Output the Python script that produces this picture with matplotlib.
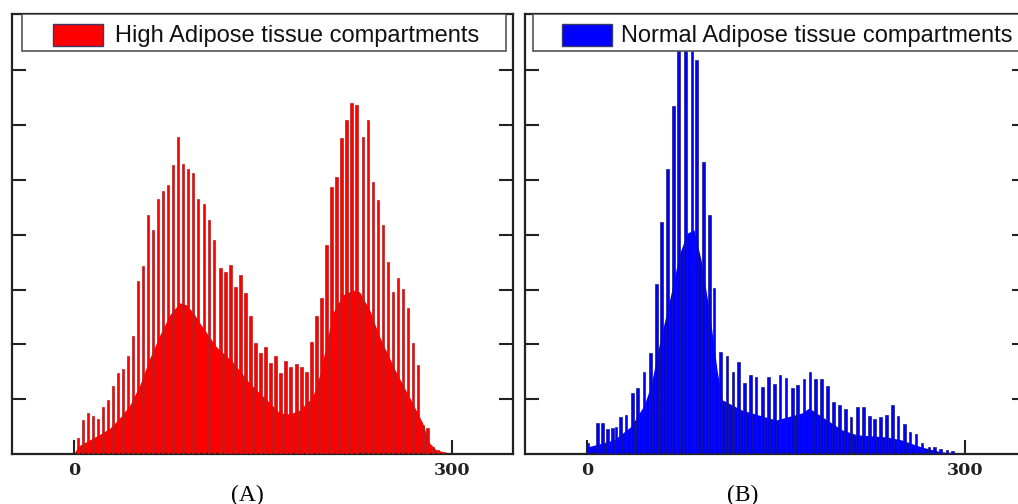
import matplotlib.pyplot as plt
from matplotlib.patches import Rectangle

# smooth lower part of each histogram (grey level, relative count)
high_base_x = [0, 1.6, 4.8, 12.7, 20.6, 28.5, 36.4, 44.3, 52.3, 60.2, 68.1, 76.0, 83.9, 89.5,
               95.8, 99.8, 113.2, 125.9, 139.4, 152.8, 163.1, 171.0, 178.9, 189.2, 194.8,
               200.3, 205.1, 213.0, 220.9, 226.4, 234.4, 242.3, 255.7, 268.4, 276.3, 281.9,
               287.4, 297.7, 305.6]
high_base_y = [0, 0.07, 0.16, 0.26, 0.36, 0.47, 0.66, 0.89, 1.26, 1.75, 2.17, 2.54, 2.76, 2.72,
               2.54, 2.39, 1.95, 1.68, 1.29, 0.99, 0.75, 0.73, 0.80, 1.04, 1.44,
               2.03, 2.57, 2.90, 2.99, 2.96, 2.63, 2.14, 1.48, 0.93, 0.57, 0.20,
               0.07, 0.02, 0]

# spikes of the high adipose histogram
high_spike_x = [3.4, 7.4, 11.3, 15.3, 19.2, 23.2, 27.2, 31.1, 35.1, 39.0, 43.0, 47.0, 50.9, 54.9,
                58.8, 62.8, 66.7, 70.7, 74.7, 78.6, 82.6, 86.5, 90.5, 94.5, 98.4, 103.2, 107.1,
                111.1, 116.4, 120.3, 124.3, 128.3, 132.2, 136.2, 140.1, 144.1, 148.1, 152.0,
                156.0, 159.9, 163.9, 167.9, 171.8, 176.3, 180.3, 184.2, 188.2, 192.2, 196.1,
                200.1, 204.0, 208.0, 212.0, 215.9, 219.9, 223.8, 229.1, 233.0, 237.0, 241.0,
                244.9, 248.9, 252.9, 256.8, 260.7, 264.7, 268.7, 272.6, 276.6, 280.5, 284.5,
                288.5, 292.5]
high_spike_h = [0.29, 0.62, 0.75, 0.69, 0.64, 0.86, 0.99, 1.24, 1.48, 1.55, 1.79, 2.15, 3.16, 3.43,
                4.36, 4.09, 4.65, 4.80, 4.91, 5.27, 5.78, 5.30, 5.20, 5.13, 4.65, 4.57, 4.27,
                3.91, 3.39, 3.33, 3.45, 3.05, 3.27, 2.94, 2.51, 2.02, 1.85, 1.96,
                1.66, 1.78, 1.48, 1.70, 1.58, 1.64, 1.59, 1.50, 2.05, 2.51, 2.84,
                3.81, 4.87, 5.06, 5.76, 6.09, 6.41, 6.37, 5.79, 6.09, 4.97, 4.64,
                4.18, 3.51, 2.96, 3.21, 3.02, 2.66, 2.02, 1.62, 0.53, 0.47, 0.12,
                0.07, 0.04]

normal_base_x = [0, 0.5, 5.8, 21.6, 34.8, 45.4, 50.9, 57.3, 66.8, 73.1, 79.4, 85.0, 90.5, 96.9,
                 103.2, 107.2, 123.0, 149.9, 170.5, 176.1, 186.4, 202.2, 214.1, 237.8, 248.9,
                 264.8, 280.6, 296.4, 318.5]
normal_base_y = [0, 0.13, 0.16, 0.26, 0.50, 0.89, 1.26, 1.99, 2.94, 3.63, 4.03, 4.09, 3.54, 2.63,
                 1.53, 0.99, 0.80, 0.62, 0.75, 0.84, 0.68, 0.44, 0.35, 0.31, 0.26,
                 0.13, 0.04, 0.02, 0]

normal_spike_x = [1.0, 8.4, 12.4, 16.3, 20.3, 23.2, 26.9, 30.9, 36.1, 40.1, 45.4, 50.4, 55.0, 59.1,
                  64.1, 68.9, 72.7, 78.1, 83.2, 86.7, 92.3, 97.2, 100.8, 106.1, 111.1, 115.8,
                  120.2, 124.9, 129.8, 134.0, 139.0, 143.9, 148.7, 153.0, 157.8, 162.8, 167.1,
                  172.1, 176.8, 181.3, 186.1, 190.5, 195.6, 200.0, 205.1, 209.4, 214.3, 219.0,
                  223.8, 228.1, 232.8, 237.5, 242.0, 246.7, 251.6, 256.2, 260.7, 265.7, 271.0,
                  275.5, 280.3, 285.3, 290.0]
normal_spike_h = [0.20, 0.56, 0.56, 0.45, 0.47, 0.50, 0.68, 0.71, 1.11, 1.20, 1.50, 1.84, 3.10, 4.23,
                  5.20, 6.35, 7.60, 7.95, 7.50, 7.19, 5.33, 4.36, 3.03, 1.87, 1.78, 1.50,
                  1.68, 1.29, 1.44, 1.40, 1.23, 1.41, 1.28, 1.44, 1.38, 1.21, 1.26,
                  1.37, 1.49, 1.37, 1.37, 1.24, 0.95, 0.89, 0.82, 0.68, 0.86, 0.86,
                  0.70, 0.64, 0.67, 0.72, 0.89, 0.69, 0.55, 0.40, 0.37, 0.20, 0.13,
                  0.12, 0.10, 0.07, 0.05]

legend_labels = ["High Adipose tissue compartments", "Normal Adipose tissue compartments"]
panel_tags = ["(A)", "(B)"]
x_ticks = [0, 300]
x_tick_labels = ["0", "300"]
y_ticks = [1, 2, 3, 4, 5, 6, 7]


def draw_panel(ax, base_x, base_y, spike_x, spike_h, fill, edge, label, box, hx, tx):
    ax.fill_between(base_x, base_y, color=fill, lw=0, zorder=2)
    ax.bar(spike_x, spike_h, width=2.1, color=fill, edgecolor=edge, linewidth=0.5, zorder=3)

    ax.set_xlim(-49, 348)
    ax.set_ylim(0, 8.03)
    ax.set_xticks(x_ticks)
    ax.set_xticklabels(x_tick_labels, fontfamily="DejaVu Serif", fontweight="bold", fontsize=12.5)
    ax.set_yticks(y_ticks)
    ax.tick_params(axis="x", direction="in", length=10, width=1.5, pad=6, colors="#222222")
    ax.tick_params(axis="y", direction="in", length=10, width=1.5, left=True, right=True,
                   labelleft=False, colors="#222222")
    for s in ax.spines.values():
        s.set_linewidth(1.6)
        s.set_color("#222222")

    # legend box drawn by hand so it spans the top of the panel
    ax.add_patch(Rectangle((box[0], 0.916), box[1], 0.084, transform=ax.transAxes,
                           facecolor="white", edgecolor="#555555", lw=1.2, zorder=6))
    ax.add_patch(Rectangle((hx, 0.927), 0.0998, 0.05, transform=ax.transAxes, facecolor=fill,
                           edgecolor="#3a3a6a", lw=1.0, zorder=7))
    ax.text(tx, 0.951, label, transform=ax.transAxes, ha="left", va="center",
            fontsize=17, family="Liberation Sans", color="#111111", zorder=8)


fig = plt.figure(figsize=(10.18, 5.04), dpi=100)
ax_a = fig.add_axes([12 / 1018, 50 / 504, 501 / 1018, 440 / 504])
ax_b = fig.add_axes([525 / 1018, 50 / 504, 501 / 1018, 440 / 504])

draw_panel(ax_a, high_base_x, high_base_y, high_spike_x, high_spike_h,
           "#ff0000", "#b82020", legend_labels[0], (0.020, 0.966), 0.082, 0.2056)
draw_panel(ax_b, normal_base_x, normal_base_y, normal_spike_x, normal_spike_h,
           "#0000ff", "#1c1c80", legend_labels[1], (0.016, 1.1), 0.074, 0.1916)

fig.text(247 / 1018, 1 - 495 / 504, panel_tags[0], ha="center", va="center",
         family="Liberation Serif", fontsize=17)
fig.text(743 / 1018, 1 - 495 / 504, panel_tags[1], ha="center", va="center",
         family="Liberation Serif", fontsize=17)

fig.savefig("out.png", dpi=100)
